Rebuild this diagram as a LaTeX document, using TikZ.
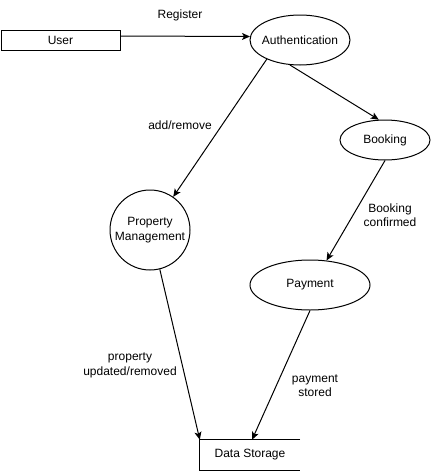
\documentclass[tikz,border=0pt]{standalone}
\usepackage{fontspec}
\setmainfont{Liberation Sans}
\usetikzlibrary{shapes.geometric,arrows.meta}
\begin{document}
\begin{tikzpicture}[x=1pt,y=-1pt,
  font=\fontsize{12pt}{14.5pt}\selectfont,
  proc/.style={draw, ellipse, line width=1pt, inner sep=0pt},
  flow/.style={line width=1pt, -{Stealth[length=8pt,width=7pt,inset=2pt]}},
  lbl/.style={align=center, inner sep=0pt}]
  \useasboundingbox (0,0) rectangle (431,471);

\node [draw, line width=1pt, minimum width=119pt, minimum height=20pt, inner sep=0pt] (user) at (60.5,40) {User};
\node [proc, minimum width=100pt, minimum height=50pt, label=center:Authentication] (auth) at (300,40) {};
\node [proc, minimum width=90pt, minimum height=40pt, label=center:Booking] (booking) at (385,140) {};
\node [proc, circle, minimum size=80pt, label={[align=center]center:Property\\Management}] (prop) at (150,230) {};
\node [proc, minimum width=120pt, minimum height=50pt, label=center:Payment] (payment) at (310,285) {};
\node [minimum width=100pt, minimum height=30pt, inner sep=0pt] (store) at (250,455) {Data Storage};
\draw [line width=1pt] (store.north east) -- (store.north west) -- (store.south west) -- (store.south east);

\draw [flow] ([yshift=4pt]user.east) -- (auth.176);
\draw [flow] (auth.210) -- (prop.55);
\draw [flow] (auth.248) -- (booking.107);
\draw [flow] (booking.south) -- (payment.56);
\draw [flow] (prop.284) -- (store.north west);
\draw [flow] (payment.south) -- ([xshift=2pt]store.north);

\node [lbl] (lregister) at (180,15) {Register};
\node [lbl] (ladd) at (180,125) {add/remove};
\node [lbl] (lconfirmed) at (390,215) {Booking\\confirmed};
\node [lbl] (lupdated) at (130,365.5) {property\\updated/removed};
\node [lbl] (lstored) at (315,385.5) {payment\\stored};
\end{tikzpicture}
\end{document}
